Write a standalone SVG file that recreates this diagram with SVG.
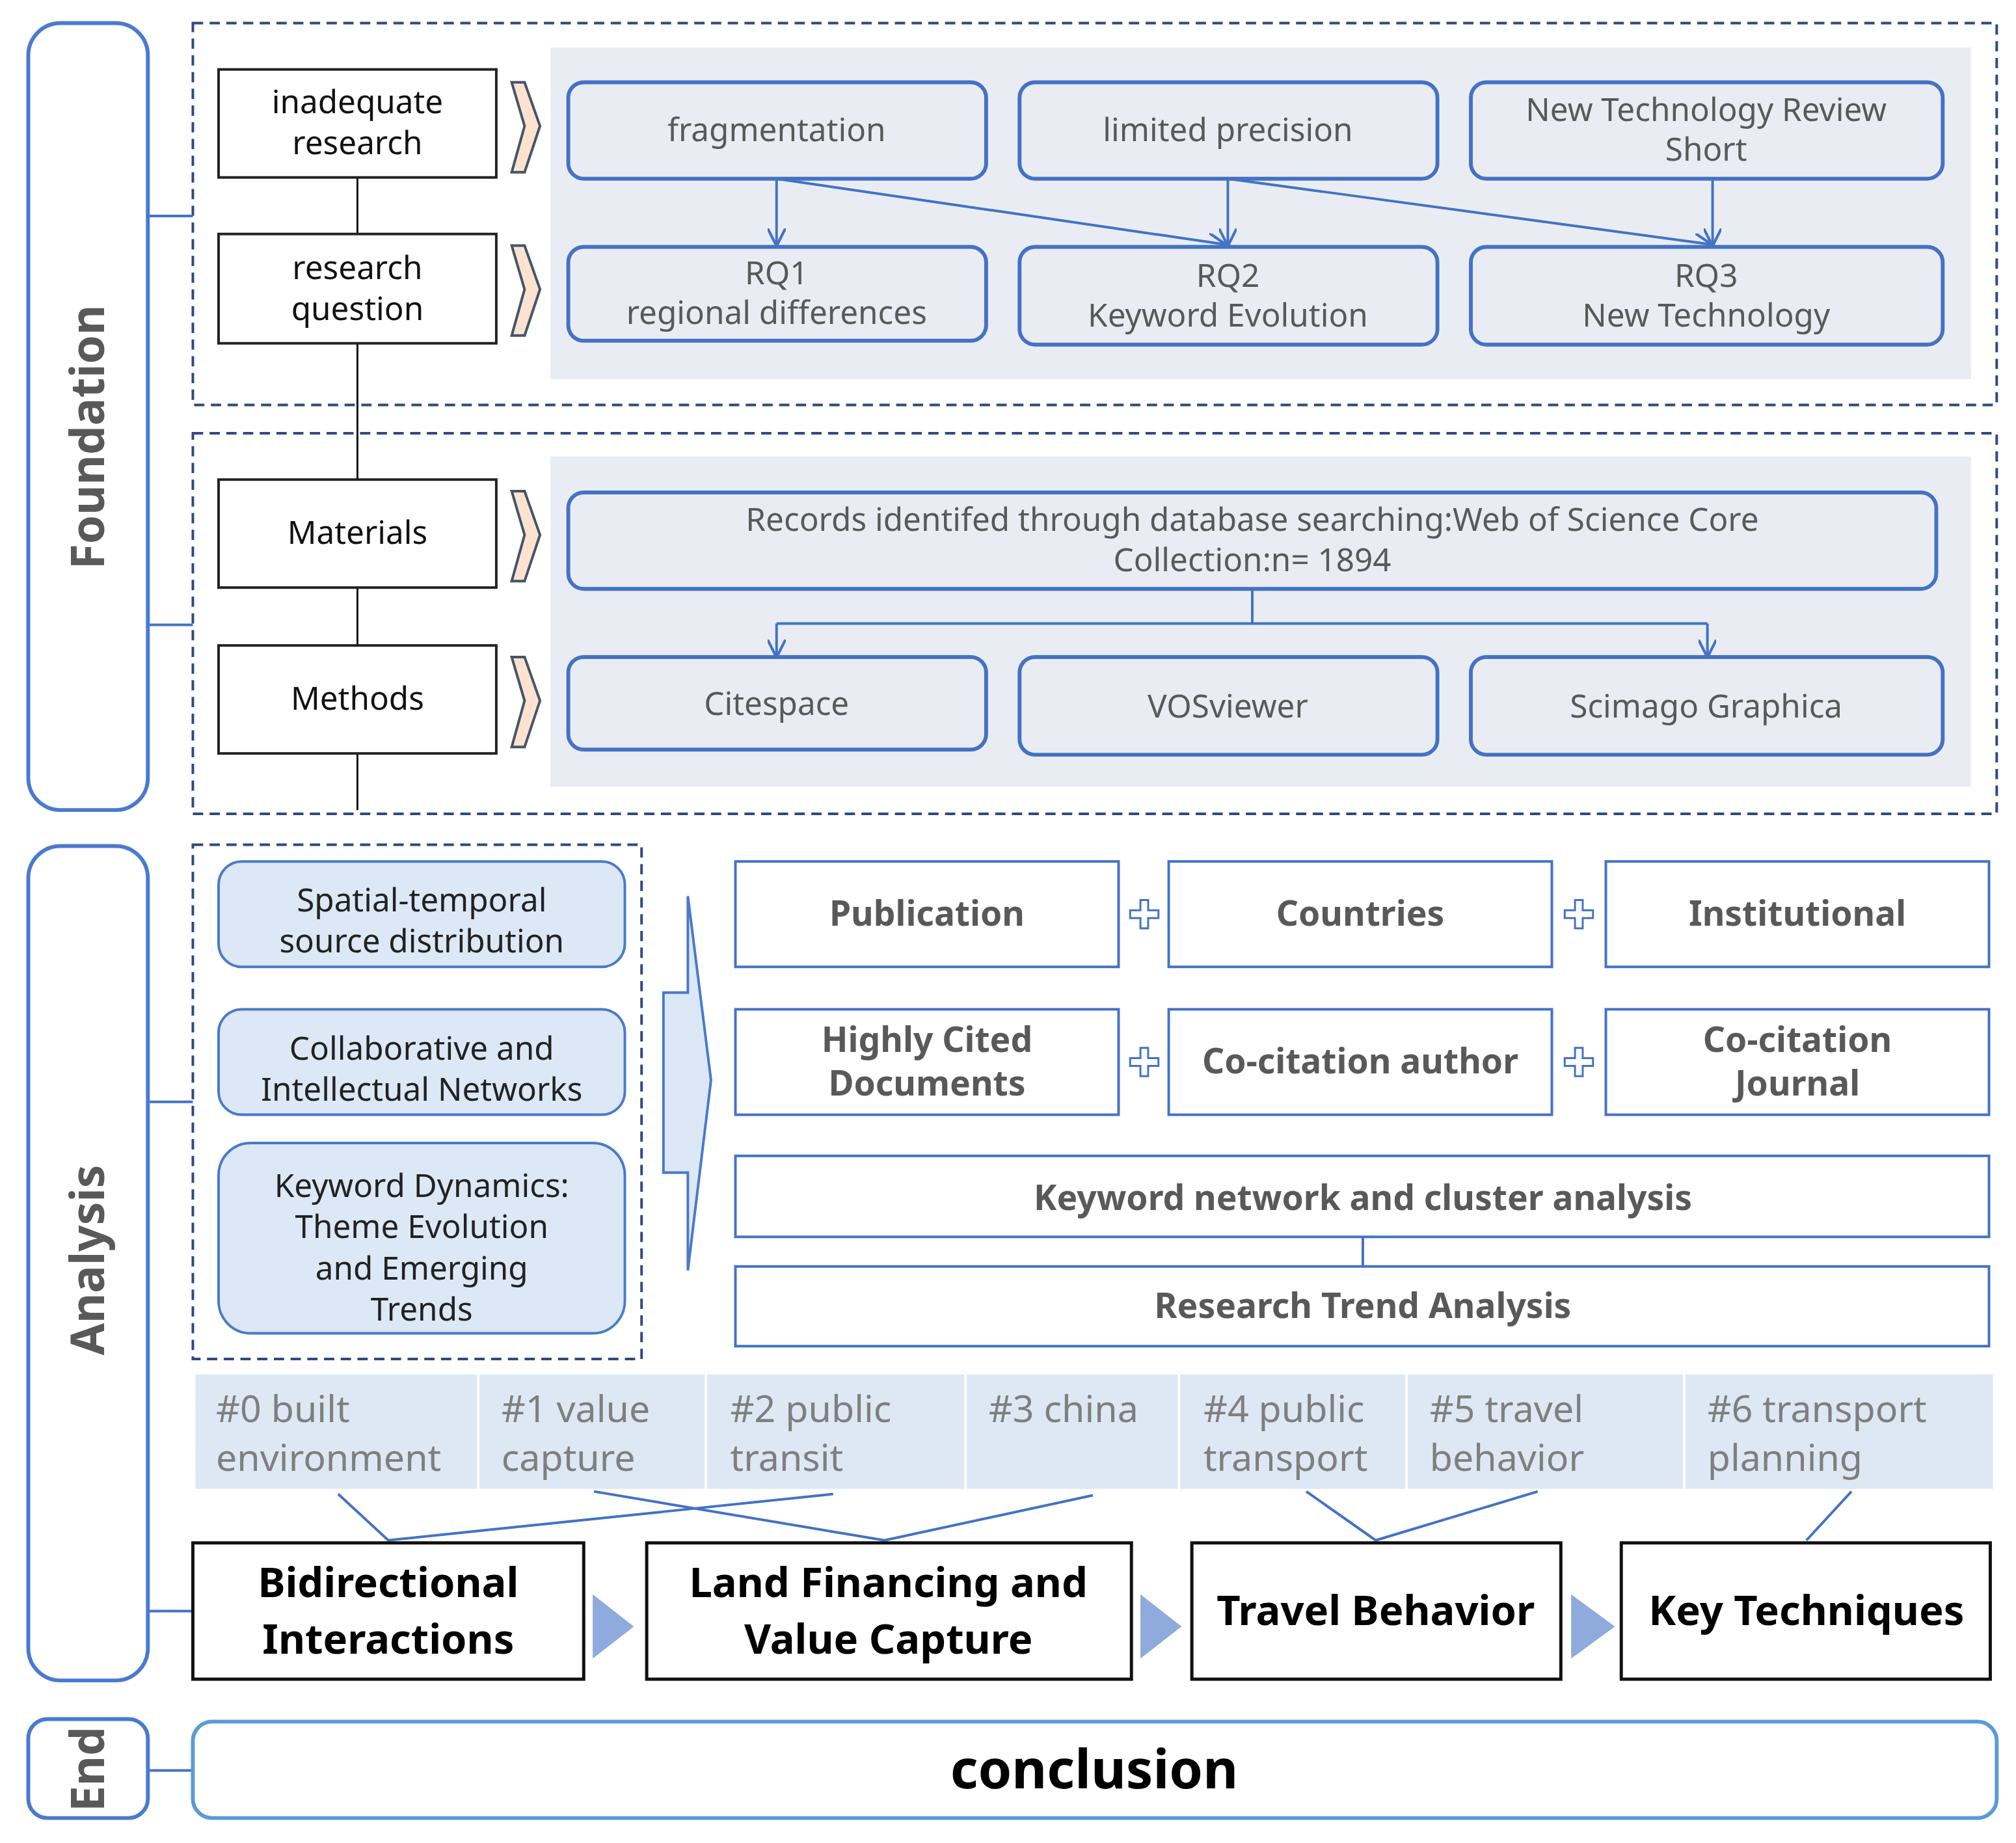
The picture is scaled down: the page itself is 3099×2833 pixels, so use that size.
<svg xmlns="http://www.w3.org/2000/svg" width="3099" height="2833" viewBox="0 0 3099 2833">
<style>
text{font-family:"Noto Sans","Open Sans",sans-serif;text-anchor:middle}
.pill{fill:#fff;stroke:#4a7ad0;stroke-width:3}
.side{font-size:36px;font-weight:bold;fill:#595959}
.dash{fill:none;stroke:#2f4a80;stroke-width:2;stroke-dasharray:8 5}
.panel{fill:#e9edf3}
.blk{fill:#fff;stroke:#222;stroke-width:2}
.bt{font-size:25px;fill:#111}
.rb{fill:#e9edf3;stroke:#4472c4;stroke-width:3}
.gt{font-size:25px;fill:#595959}
.chev{fill:#fde2cf;stroke:#44546a;stroke-width:2}
.ln{stroke:#4472c4;stroke-width:2;fill:none}
.kl{stroke:#111;stroke-width:1.5}
.lb{fill:#dce8f6;stroke:#4a7ac8;stroke-width:2}
.lt{font-size:25px;fill:#222}
.wb{fill:#fff;stroke:#4472c4;stroke-width:2}
.wt{font-size:27px;font-weight:bold;fill:#595959}
.plus{fill:#fff;stroke:#4472c4;stroke-width:1.5}
.ct{font-size:29px;fill:#7f7f7f;text-anchor:start}
.ob{fill:#fff;stroke:#111;stroke-width:2.5}
.ot{font-size:32px;font-weight:bold;fill:#000}
.tri{fill:#8faadc}
</style>
<defs><marker id="ah" viewBox="0 0 10 10" refX="9" refY="5" markerWidth="7" markerHeight="7" orient="auto"><path d="M0,0 L10,5 L0,10" fill="none" stroke="#4472c4" stroke-width="1.5"/></marker></defs>
<rect width="3099" height="2833" fill="#fff"/>
<g transform="scale(1.9764)">
<rect class="dash" x="150" y="18" width="1403" height="297"/>
<rect class="dash" x="150" y="337" width="1403" height="296"/>
<rect class="panel" x="428" y="37" width="1105" height="258"/>
<rect class="panel" x="428" y="355" width="1105" height="257"/>
<rect class="dash" x="150" y="657" width="349" height="400"/>
<g id="clusters">
<rect x="152" y="1069" width="1398" height="89" fill="#dde8f4"/>
<path d="M372,1069V1158M549,1069V1158M751,1069V1158M917,1069V1158M1094,1069V1158M1310,1069V1158" stroke="#fff" stroke-width="2"/>
<text class="ct" x="168" y="1106">#0 built</text><text class="ct" x="168" y="1144">environment</text>
<text class="ct" x="390" y="1106">#1 value</text><text class="ct" x="390" y="1144">capture</text>
<text class="ct" x="568" y="1106">#2 public</text><text class="ct" x="568" y="1144">transit</text>
<text class="ct" x="769" y="1106">#3 china</text>
<text class="ct" x="936" y="1106">#4 public</text><text class="ct" x="936" y="1144">transport</text>
<text class="ct" x="1112" y="1106">#5 travel</text><text class="ct" x="1112" y="1144">behavior</text>
<text class="ct" x="1328" y="1106">#6 transport</text><text class="ct" x="1328" y="1144">planning</text>
</g>
<g id="connectors">
<path class="ln" d="M115,168H150M115,486H150M115,857H150M115,1253H150M115,1377H150"/>
<path class="kl" d="M278,138V182M278,267V373M278,457V502M278,586V630"/>
<path class="ln" marker-end="url(#ah)" d="M604,139V190"/>
<path class="ln" marker-end="url(#ah)" d="M604,139L952,190"/>
<path class="ln" marker-end="url(#ah)" d="M955,139V190"/>
<path class="ln" marker-end="url(#ah)" d="M955,139L1330,190"/>
<path class="ln" marker-end="url(#ah)" d="M1332,139V190"/>
<path class="ln" d="M974,458V485M604,485H1328"/>
<path class="ln" marker-end="url(#ah)" d="M604,485V510"/>
<path class="ln" marker-end="url(#ah)" d="M1328,485V510"/>
<path class="ln" d="M1060,962V985"/>
<path class="ln" d="M263,1162L302,1198L648,1162M462,1160L688,1198L850,1163M1016,1160L1070,1198L1196,1160M1440,1160L1405,1198"/>
</g>
<g id="foundation"><rect class="pill" x="22" y="18" width="93" height="612" rx="25"/><text class="side" transform="translate(81,340) rotate(-90)">Foundation</text></g>
<g id="analysis"><rect class="pill" x="22" y="658" width="93" height="649" rx="25"/><text class="side" transform="translate(81,980) rotate(-90)">Analysis</text></g>
<g id="end"><rect class="pill" x="22" y="1337" width="93" height="77" rx="15"/><text class="side" transform="translate(81,1376) rotate(-90)">End</text></g>
<g id="n-inadequate"><rect class="blk" x="170" y="54" width="216" height="84"/><text class="bt" x="278" y="88">inadequate</text><text class="bt" x="278" y="120">research</text></g>
<g id="n-rq"><rect class="blk" x="170" y="182" width="216" height="85"/><text class="bt" x="278" y="217">research</text><text class="bt" x="278" y="249">question</text></g>
<g id="n-materials"><rect class="blk" x="170" y="373" width="216" height="84"/><text class="bt" x="278" y="423">Materials</text></g>
<g id="n-methods"><rect class="blk" x="170" y="502" width="216" height="84"/><text class="bt" x="278" y="552">Methods</text></g>
<g id="chevrons">
<path class="chev" d="M398,64H408L420,98L408,134H398L408,98Z"/>
<path class="chev" d="M398,191H408L420,225L408,261H398L408,225Z"/>
<path class="chev" d="M398,382H408L420,416L408,452H398L408,416Z"/>
<path class="chev" d="M398,511H408L420,545L408,581H398L408,545Z"/>
</g>
<g id="n-frag"><rect class="rb" x="442" y="64" width="325" height="75" rx="12"/><text class="gt" x="604" y="110">fragmentation</text></g>
<g id="n-limited"><rect class="rb" x="793" y="64" width="325" height="75" rx="12"/><text class="gt" x="955" y="110">limited precision</text></g>
<g id="n-newtech"><rect class="rb" x="1144" y="64" width="367" height="75" rx="12"/><text class="gt" x="1327" y="94">New Technology Review</text><text class="gt" x="1327" y="125">Short</text></g>
<g id="n-rq1"><rect class="rb" x="442" y="192" width="325" height="73" rx="12"/><text class="gt" x="604" y="221">RQ1</text><text class="gt" x="604" y="252">regional differences</text></g>
<g id="n-rq2"><rect class="rb" x="793" y="192" width="325" height="76" rx="12"/><text class="gt" x="955" y="223">RQ2</text><text class="gt" x="955" y="254">Keyword Evolution</text></g>
<g id="n-rq3"><rect class="rb" x="1144" y="192" width="367" height="76" rx="12"/><text class="gt" x="1327" y="223">RQ3</text><text class="gt" x="1327" y="254">New Technology</text></g>
<g id="n-records"><rect class="rb" x="442" y="383" width="1064" height="75" rx="12"/><text class="gt" x="974" y="413">Records identifed through database searching:Web of Science Core</text><text class="gt" x="974" y="444">Collection:n= 1894</text></g>
<g id="n-cite"><rect class="rb" x="442" y="511" width="325" height="72" rx="12"/><text class="gt" x="604" y="556">Citespace</text></g>
<g id="n-vos"><rect class="rb" x="793" y="511" width="325" height="76" rx="12"/><text class="gt" x="955" y="558">VOSviewer</text></g>
<g id="n-scimago"><rect class="rb" x="1144" y="511" width="367" height="76" rx="12"/><text class="gt" x="1327" y="558">Scimago Graphica</text></g>
<g id="n-spatial"><rect class="lb" x="170" y="670" width="316" height="82" rx="18"/><text class="lt" x="328" y="709">Spatial-temporal</text><text class="lt" x="328" y="741">source distribution</text></g>
<g id="n-collab"><rect class="lb" x="170" y="785" width="316" height="82" rx="18"/><text class="lt" x="328" y="824">Collaborative and</text><text class="lt" x="328" y="856">Intellectual Networks</text></g>
<g id="n-keydyn"><rect class="lb" x="170" y="889" width="316" height="148" rx="25"/><text class="lt" x="328" y="931">Keyword Dynamics:</text><text class="lt" x="328" y="963">Theme Evolution</text><text class="lt" x="328" y="995">and Emerging</text><text class="lt" x="328" y="1027">Trends</text></g>
<path id="bigarrow" d="M516,772H535V697L553,840L535,988V912H516Z" fill="#dce8f6" stroke="#4a7ac8" stroke-width="2"/>
<g id="n-pub"><rect class="wb" x="572" y="670" width="298" height="82"/><text class="wt" x="721" y="720">Publication</text></g>
<g id="n-countries"><rect class="wb" x="909" y="670" width="298" height="82"/><text class="wt" x="1058" y="720">Countries</text></g>
<g id="n-inst"><rect class="wb" x="1249" y="670" width="298" height="82"/><text class="wt" x="1398" y="720">Institutional</text></g>
<g id="n-highly"><rect class="wb" x="572" y="785" width="298" height="82"/><text class="wt" x="721" y="818">Highly Cited</text><text class="wt" x="721" y="852">Documents</text></g>
<g id="n-coauth"><rect class="wb" x="909" y="785" width="298" height="82"/><text class="wt" x="1058" y="835">Co-citation author</text></g>
<g id="n-cojour"><rect class="wb" x="1249" y="785" width="298" height="82"/><text class="wt" x="1398" y="818">Co-citation</text><text class="wt" x="1398" y="852">Journal</text></g>
<g id="n-keynet"><rect class="wb" x="572" y="899" width="975" height="63"/><text class="wt" x="1060" y="941">Keyword network and cluster analysis</text></g>
<g id="n-trend"><rect class="wb" x="572" y="985" width="975" height="62"/><text class="wt" x="1060" y="1025">Research Trend Analysis</text></g>
<g id="plus">
<path class="plus" d="M887,700h6v8h8v6h-8v8h-6v-8h-8v-6h8z"/>
<path class="plus" d="M1225,700h6v8h8v6h-8v8h-6v-8h-8v-6h8z"/>
<path class="plus" d="M887,815h6v8h8v6h-8v8h-6v-8h-8v-6h8z"/>
<path class="plus" d="M1225,815h6v8h8v6h-8v8h-6v-8h-8v-6h8z"/>
</g>
<g id="n-bidir"><rect class="ob" x="150" y="1200" width="304" height="106"/><text class="ot" x="302" y="1242">Bidirectional</text><text class="ot" x="302" y="1286">Interactions</text></g>
<g id="n-land"><rect class="ob" x="503" y="1200" width="377" height="106"/><text class="ot" x="691" y="1242">Land Financing and</text><text class="ot" x="691" y="1286">Value Capture</text></g>
<g id="n-travel"><rect class="ob" x="927" y="1200" width="287" height="106"/><text class="ot" x="1070" y="1264">Travel Behavior</text></g>
<g id="n-key"><rect class="ob" x="1261" y="1200" width="287" height="106"/><text class="ot" x="1405" y="1264">Key Techniques</text></g>
<path class="tri" d="M461,1240L493,1265L461,1290Z"/>
<path class="tri" d="M887,1240L919,1265L887,1290Z"/>
<path class="tri" d="M1222,1240L1256,1265L1222,1290Z"/>
<g id="n-conclusion"><rect x="150" y="1339" width="1403" height="75" rx="15" fill="#fff" stroke="#5b9bd5" stroke-width="3"/><text x="851" y="1391" font-size="42" font-weight="bold" fill="#000">conclusion</text></g>
</g>
</svg>
